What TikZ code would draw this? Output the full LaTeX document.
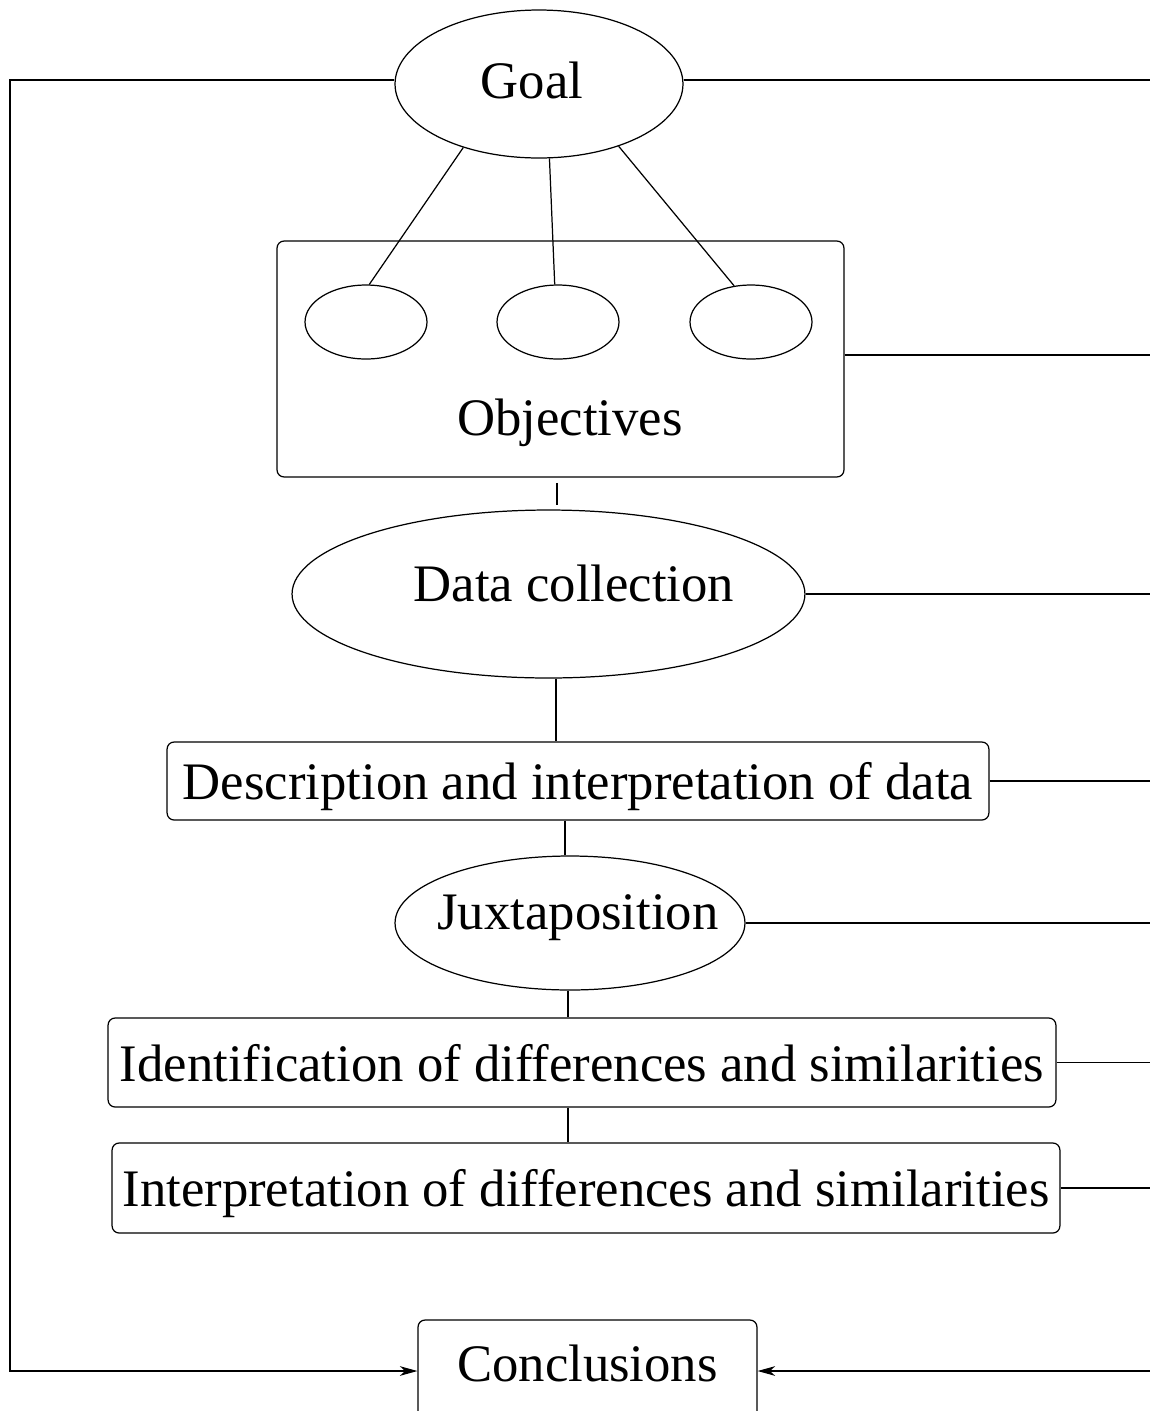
\documentclass[tikz,border=0pt]{standalone}
\usepackage{fontspec}
\setmainfont{Liberation Serif}
\usetikzlibrary{arrows.meta,shapes,calc}
\tikzset{
    block/.style = {draw, rectangle, rounded corners=4pt, inner sep=0pt, text depth=0pt, align=center},
    oval/.style = {draw, ellipse, inner sep=0pt},
    label/.style = {inner sep=0pt},
    link/.style = {draw},
    arrow/.style = {draw, -{Stealth[length=10pt,width=5.5pt,inset=3pt]}}
}

\begin{document}
\begin{tikzpicture}[x=0.02cm, y=-0.02cm, line width=0.7pt, font=\fontsize{30pt}{36pt}\selectfont]
    \useasboundingbox (0,0) rectangle (1150,1411);
    \coordinate (lrim) at (10,0);
    \coordinate (rrim) at (1150,0);
    \node [oval, minimum width=5.76cm, minimum height=2.96cm] (goal) at (539,84) {};
    \node [label] (goaltext) at (532,80) {Goal};
    \node [block, minimum width=11.34cm, minimum height=4.72cm] (objbox) at (560.5,359) {};
    \node [oval, minimum width=2.44cm, minimum height=1.48cm] (obj1) at (366,322) {};
    \node [oval, minimum width=2.44cm, minimum height=1.48cm] (obj2) at (558,322) {};
    \node [oval, minimum width=2.44cm, minimum height=1.48cm] (obj3) at (751,322) {};
    \node [label] (objtext) at (570,423) {Objectives};
    \draw [link] (goal.220) -- (obj1.85);
    \draw [link] (goal.278) -- (obj2.95);
    \draw [link] (goal.322) -- (obj3.115);
    \node [oval, minimum width=10.26cm, minimum height=3.36cm] (data) at (548.5,594) {};
    \node [label] (datatext) at (574,583) {Data collection};
    \draw [link, shorten <=3pt, shorten >=2.5pt] ([xshift=-2pt]objbox.south) -- ([xshift=-2pt]objbox.south |- data.north);
    \node [block, minimum width=16.44cm, minimum height=1.56cm] (desc) at (578,781) {Description and interpretation of data};
    \draw [link] ([xshift=0.15cm]data.south) -- ([xshift=0.15cm]data.south |- desc.north);
    \node [oval, minimum width=7cm, minimum height=2.68cm] (jux) at (570,923) {};
    \node [label] (juxtext) at (578,918) {Juxtaposition};
    \draw [link] ([xshift=-0.1cm]jux.north |- desc.south) -- ([xshift=-0.1cm]jux.north);
    \node [block, minimum width=18.96cm, minimum height=1.78cm] (ident) at (582,1062.5) {Identification of differences and similarities};
    \draw [link] ([xshift=-0.04cm]jux.south) -- ([xshift=-0.04cm]jux.south |- ident.north);
    \node [block, minimum width=18.96cm, minimum height=1.8cm] (interp) at (586,1188) {Interpretation of differences and similarities};
    \draw [link] ([xshift=-0.04cm]ident.south -| jux.south) -- ([xshift=-0.04cm]interp.north -| jux.south);
    \node [block, minimum width=6.78cm, minimum height=2.04cm, text depth=0.3cm] (concl) at (587.5,1371) {Conclusions};
    \draw [link] ([yshift=0.08cm]goal.east) -- ([yshift=0.08cm]goal.east -| rrim);
    \draw [link] ([yshift=0.08cm]objbox.east) -- ([yshift=0.08cm]objbox.east -| rrim);
    \draw [link] (data.east) -- (data.east -| rrim);
    \draw [link] (desc.east) -- (desc.east -| rrim);
    \draw [link] (jux.east) -- (jux.east -| rrim);
    \draw [link] (ident.east) -- (ident.east -| rrim);
    \draw [link] (interp.east) -- (interp.east -| rrim);
    \draw [arrow] ([yshift=0.08cm]goal.west) -- ([yshift=0.08cm]goal.west -| lrim) |- (concl.west);
    \draw [arrow] (concl.east -| rrim) -- (concl.east);
\end{tikzpicture}
\end{document}
